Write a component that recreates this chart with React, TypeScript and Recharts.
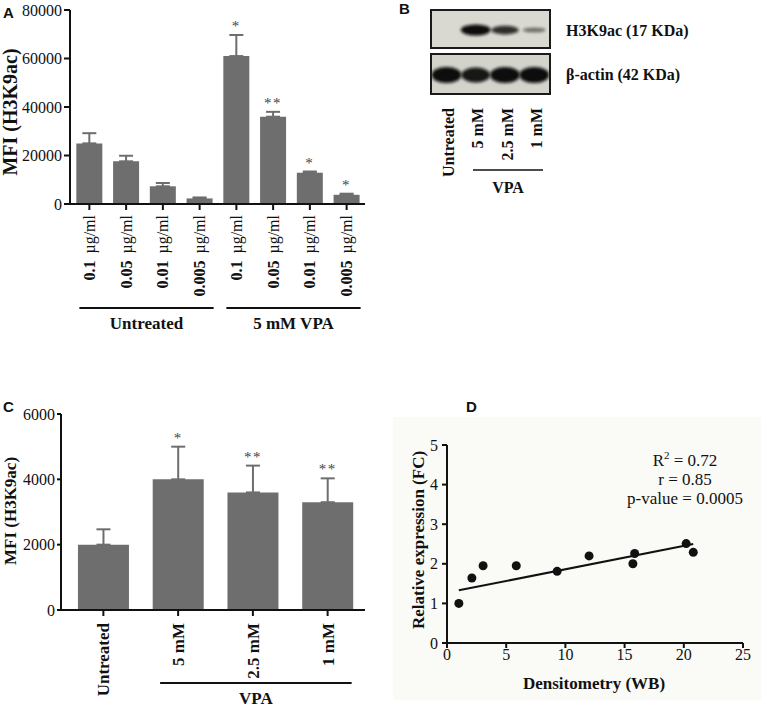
import { BarChart, Bar, XAxis, YAxis, ErrorBar, LabelList, ScatterChart, Scatter } from 'recharts';

const SERIF = '"Liberation Serif", "Times New Roman", serif';
const SANS = '"Liberation Sans", Arial, sans-serif';
const BAR = '#6e6e6e';
const INK = '#111';

// A: MFI by antibody concentration
const concA = ['0.1', '0.05', '0.01', '0.005', '0.1', '0.05', '0.01', '0.005'];
const mfiA = [25000, 17600, 7300, 2300, 61000, 36000, 12900, 3800];
const errA = [4200, 2300, 1350, 400, 8700, 2000, 500, 450];
const sigA = ['', '', '', '', '*', '**', '*', '*'];
const groupsA = [
  { label: 'Untreated', from: 0, to: 3 },
  { label: '5 mM VPA', from: 4, to: 7 },
];

// B: western blot lanes (band intensity 0..1)
const lanesB = ['Untreated', '5 mM', '2.5 mM', '1 mM'];
const h3k9B = [0, 1, 0.75, 0.3];
const actinB = [1, 0.92, 1, 1];

// C: MFI by VPA dose
const lanesC = ['Untreated', '5 mM', '2.5 mM', '1 mM'];
const mfiC = [2000, 4000, 3600, 3300];
const errC = [470, 1000, 820, 730];
const sigC = ['', '*', '**', '**'];
const groupsC = [{ label: 'VPA', from: 1, to: 3 }];

// D: densitometry vs relative expression
const densX = [1, 2.1, 3.05, 5.85, 9.3, 12, 15.7, 15.85, 20.2, 20.8];
const relY = [1, 1.64, 1.95, 1.95, 1.81, 2.2, 2.0, 2.26, 2.51, 2.29];
const fitX = [1, 20.8];
const fitY = [1.33, 2.5];

const dataA = concA.map((c, i) => ({ key: 'a' + i, conc: c, mfi: mfiA[i], err: [0, errA[i]], sig: sigA[i] }));
const dataB = lanesB.map((l, i) => ({ lane: l, h3: h3k9B[i], actin: actinB[i] }));
const dataC = lanesC.map((l, i) => ({ lane: l, mfi: mfiC[i], err: [0, errC[i]], sig: sigC[i] }));
const pointsD = densX.map((x, i) => ({ x, y: relY[i] }));
const fitD = fitX.map((x, i) => ({ x, y: fitY[i] }));

const STEP_A = (365 - 71) / 8;
const STEP_C = (365 - 66) / 4;

const axisStyle = { stroke: INK, strokeWidth: 2 };

const YTick = (p: any) => (
  <text x={p.x} y={p.y} textAnchor="end" dy="0.35em" fontFamily={SERIF} fontSize={16} fill={INK}>
    {p.payload.value}
  </text>
);
const XTick = (p: any) => (
  <text x={p.x} y={p.y} textAnchor="middle" dy="0.71em" fontFamily={SERIF} fontSize={16} fill={INK}>
    {p.payload.value}
  </text>
);

const sigLabel = (data: any[]) => (props: any) => {
  const { x, y, width, height, index } = props;
  const d = data[index];
  if (!d || !d.sig) return null;
  const top = Number(y) - d.err[1] * (Number(height) / d.mfi);
  return (
    <text x={Number(x) + Number(width) / 2} y={top - 4} textAnchor="middle" fontFamily={SERIF}
      fontSize={15} fill="#444" letterSpacing={1.5}>{d.sig}</text>
  );
};

const TickA = (props: any) => {
  const { x, y, index } = props;
  const d = dataA[index];
  const g = groupsA.find((gr) => gr.from === index);
  return (
    <g>
      <text transform={`translate(${x},${y}) rotate(-90)`} textAnchor="end" dy="0.35em"
        fontFamily={SERIF} fontSize={16} fill={INK}>
        <tspan fontWeight="bold">{d.conc}</tspan>
        <tspan dx={7}>µg/ml</tspan>
      </text>
      {g && (
        <g>
          <line x1={x - 10} x2={x + (g.to - g.from) * STEP_A + 14} y1={y + 93} y2={y + 93} stroke={INK} strokeWidth={2} />
          <text x={x + ((g.to - g.from) * STEP_A) / 2 + 2} y={y + 114} textAnchor="middle"
            fontFamily={SERIF} fontWeight="bold" fontSize={17} fill={INK}>{g.label}</text>
        </g>
      )}
    </g>
  );
};

const TickC = (props: any) => {
  const { x, y, index } = props;
  const g = groupsC.find((gr) => gr.from === index);
  return (
    <g>
      <text transform={`translate(${x},${y}) rotate(-90)`} textAnchor="end" dy="0.35em"
        fontFamily={SERIF} fontWeight="bold" fontSize={17} fill={INK}>{lanesC[index]}</text>
      {g && (
        <g>
          <line x1={x - 18} x2={x + (g.to - g.from) * STEP_C + 24} y1={y + 60} y2={y + 60} stroke={INK} strokeWidth={2} />
          <text x={x + ((g.to - g.from) * STEP_C) / 2 + 3} y={y + 81} textAnchor="middle"
            fontFamily={SERIF} fontWeight="bold" fontSize={17} fill={INK}>{g.label}</text>
        </g>
      )}
    </g>
  );
};

const bandShape = (key: string, cy: number, ryMax: number) => (props: any) => {
  const { x, width, payload, index } = props;
  const v = payload[key];
  if (!v || v < 0.05) return <g />;
  const id = `blur-${key}-${index}`;
  return (
    <g>
      <defs>
        <filter id={id} x="-30%" y="-80%" width="160%" height="260%">
          <feGaussianBlur stdDeviation={1.4} />
        </filter>
      </defs>
      <ellipse cx={x + width / 2} cy={cy} rx={(width / 2) * (0.68 + 0.35 * v)} ry={1 + ryMax * v}
        fill="#0d0d0d" opacity={0.35 + 0.65 * v} filter={`url(#${id})`} />
    </g>
  );
};

const Blot = ({ top, height, dataKey, ryMax, bg }: any) => (
  <div style={{ position: 'absolute', left: 430, top, width: 121, height, border: '2px solid #1a1a1a',
    boxSizing: 'border-box', background: bg }}>
    <BarChart width={117} height={height - 4} data={dataB} margin={{ top: 0, right: 0, left: 0, bottom: 0 }} barCategoryGap={0}>
      <XAxis dataKey="lane" hide />
      <YAxis hide domain={[0, 1]} />
      <Bar dataKey={dataKey} isAnimationActive={false} shape={bandShape(dataKey, (height - 4) / 2 + 1, ryMax)} />
    </BarChart>
  </div>
);

export default function App() {
  const laneW = 117 / lanesB.length;
  return (
    <div style={{ position: 'absolute', left: 0, top: 0, width: 767, height: 708, background: '#fff',
      overflow: 'hidden', fontFamily: SERIF }}>
      {/* A */}
      <div style={{ position: 'absolute', left: 0, top: 0 }}>
        <BarChart width={380} height={345} data={dataA} margin={{ top: 10, right: 15, left: 0, bottom: 0 }} barCategoryGap="14.5%">
          <XAxis dataKey="key" interval={0} height={141} padding={{ left: 1, right: 0 }} axisLine={axisStyle}
            tickLine={axisStyle} tickSize={6} tickMargin={5} tick={(p: any) => <TickA {...p} />} />
          <YAxis width={70} domain={[0, 80000]} ticks={[0, 20000, 40000, 60000, 80000]} axisLine={axisStyle}
            tickLine={axisStyle} tickSize={6} tickMargin={2} tick={(p: any) => <YTick {...p} />} />
          <Bar dataKey="mfi" fill={BAR} isAnimationActive={false}>
            <ErrorBar dataKey="err" width={7} stroke={BAR} strokeWidth={2} direction="y" />
            <LabelList dataKey="sig" content={sigLabel(dataA)} />
          </Bar>
        </BarChart>
      </div>

      {/* B */}
      <Blot top={9} height={40} dataKey="h3" ryMax={4.5} bg="#d9d9d1" />
      <Blot top={53} height={42} dataKey="actin" ryMax={7} bg="#d3d3cb" />

      {/* C */}
      <div style={{ position: 'absolute', left: 0, top: 400 }}>
        <BarChart width={380} height={308} data={dataC} margin={{ top: 14, right: 15, left: 0, bottom: 0 }} barCategoryGap="16%">
          <XAxis dataKey="lane" interval={0} height={98} padding={{ left: 5, right: 0 }} axisLine={axisStyle}
            tickLine={axisStyle} tickSize={6} tickMargin={7} tick={(p: any) => <TickC {...p} />} />
          <YAxis width={61} domain={[0, 6000]} ticks={[0, 2000, 4000, 6000]} axisLine={axisStyle}
            tickLine={axisStyle} tickSize={4} tickMargin={2} tick={(p: any) => <YTick {...p} />} />
          <Bar dataKey="mfi" fill={BAR} isAnimationActive={false}>
            <ErrorBar dataKey="err" width={7} stroke={BAR} strokeWidth={2} direction="y" />
            <LabelList dataKey="sig" content={sigLabel(dataC)} />
          </Bar>
        </BarChart>
      </div>

      {/* D */}
      <div style={{ position: 'absolute', left: 393, top: 417, width: 368, height: 283, background: '#fafaf7' }} />
      <div style={{ position: 'absolute', left: 380, top: 400 }}>
        <ScatterChart width={387} height={308} margin={{ top: 45, right: 24, left: 0, bottom: 0 }}>
          <XAxis dataKey="x" type="number" domain={[0, 25]} ticks={[0, 5, 10, 15, 20, 25]} height={65}
            axisLine={axisStyle} tickLine={axisStyle} tickSize={5} tickMargin={1} tick={(p: any) => <XTick {...p} />} />
          <YAxis dataKey="y" type="number" domain={[0, 5]} ticks={[0, 1, 2, 3, 4, 5]} width={67}
            axisLine={axisStyle} tickLine={axisStyle} tickSize={5} tickMargin={4} tick={(p: any) => <YTick {...p} />} />
          <Scatter data={fitD} isAnimationActive={false} line={{ stroke: INK, strokeWidth: 2 }} shape={() => <g />} />
          <Scatter data={pointsD} isAnimationActive={false}
            shape={(p: any) => <circle cx={p.cx} cy={p.cy} r={4.5} fill={INK} />} />
        </ScatterChart>
      </div>

      {/* titles, panel letters and blot annotations */}
      <svg width={767} height={708} style={{ position: 'absolute', left: 0, top: 0, pointerEvents: 'none' }}>
        <g fontFamily={SANS} fontWeight="bold" fontSize={15} fill={INK}>
          <text x={3} y={18}>A</text>
          <text x={399} y={14}>B</text>
          <text x={3} y={412}>C</text>
          <text x={466} y={412}>D</text>
        </g>
        <g fontFamily={SERIF} fontWeight="bold" fill={INK} textAnchor="middle">
          <text x={17} y={112} fontSize={20} transform="rotate(-90, 17, 112)">MFI (H3K9ac)</text>
          <text x={16} y={511} fontSize={17} transform="rotate(-90, 16, 511)">MFI (H3K9ac)</text>
          <text x={424} y={540} fontSize={17} transform="rotate(-90, 424, 540)">Relative expression (FC)</text>
          <text x={594} y={689} fontSize={17}>Densitometry (WB)</text>
        </g>
        <g fontFamily={SERIF} fontWeight="bold" fontSize={16} fill={INK}>
          <text x={566} y={36}>H3K9ac (17 KDa)</text>
          <text x={566} y={80}>β-actin (42 KDa)</text>
          {lanesB.map((l, i) => {
            const cx = 432 + (i + 0.5) * laneW + 2;
            return (
              <text key={l} transform={`translate(${cx},108) rotate(-90)`} textAnchor="end" dy="0.35em">{l}</text>
            );
          })}
          <line x1={473} x2={543} y1={170} y2={170} stroke={INK} strokeWidth={1.5} />
          <text x={508} y={193} textAnchor="middle">VPA</text>
        </g>
        <g fontFamily={SERIF} fontSize={17} fill={INK} textAnchor="middle">
          <text x={685} y={466}>R<tspan dy={-7} fontSize={11}>2</tspan><tspan dy={7}> = 0.72</tspan></text>
          <text x={685} y={485}>r = 0.85</text>
          <text x={685} y={504}>p-value = 0.0005</text>
        </g>
      </svg>
    </div>
  );
}
